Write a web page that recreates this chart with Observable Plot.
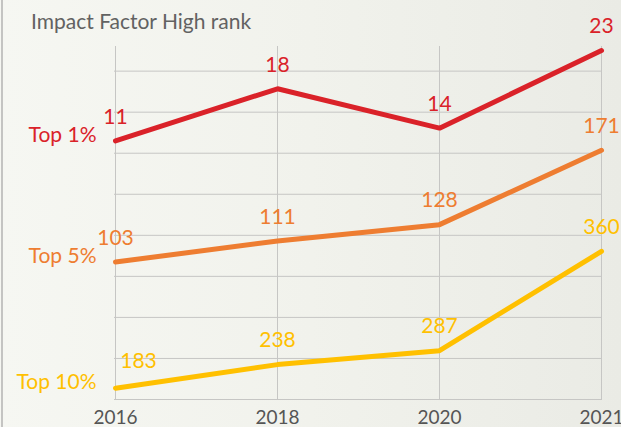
<!DOCTYPE html>
<html>
<head>
<meta charset="utf-8">
<script src="https://cdn.jsdelivr.net/npm/d3@7"></script>
<script src="https://cdn.jsdelivr.net/npm/@observablehq/plot@0.6"></script>
<style>
  html, body { margin: 0; padding: 0; }
  body { width: 621px; height: 427px; overflow: hidden; position: relative;
         background: linear-gradient(to right, #f6f7f2 0%, #f1f2ec 50%, #eaebe5 100%);
         font-family: Lato, "Open Sans", sans-serif; }
  #border { position: absolute; left: 1px; top: 0; width: 2px; height: 427px; background: #c4c4c2; }
  #title { position: absolute; left: 31px; top: 8px; font-size: 21px; color: #626262; font-family: Lato, sans-serif; white-space: nowrap; }
  #chart { position: absolute; left: 0; top: 0; }
  svg { background: transparent !important; }
</style>
</head>
<body>
<div id="border"></div>
<div id="chart"></div>
<div id="title">Impact Factor High rank</div>
<script>
// Data
const years = ["2016", "2018", "2020", "2021"];
const seriesNames = ["Top 1%", "Top 5%", "Top 10%"];
const top1Values = [11, 18, 14, 23];
const top5Values = [103, 111, 128, 171];
const top10Values = [183, 238, 287, 360];
// vertical position of each point on the chart's unlabeled index axis
const top1Pos = [6.30, 7.57, 6.61, 8.50];
const top5Pos = [3.35, 3.86, 4.26, 6.07];
const top10Pos = [0.275, 0.85, 1.19, 3.61];
const gridLevels = [0, 1, 2, 3, 4, 5, 6, 7, 8];
const colors = ["#da2229", "#ee7d31", "#ffc000"];

const valueSets = [top1Values, top5Values, top10Values];
const posSets = [top1Pos, top5Pos, top10Pos];
const rows = [];
seriesNames.forEach((s, i) => {
  years.forEach((y, j) => {
    rows.push({series: s, year: y, value: valueSets[i][j], pos: posSets[i][j]});
  });
});
const firsts = rows.filter(d => d.year === years[0]);
const shifted = d => d.year === years[0] && d.series === seriesNames[2];

const chart = Plot.plot({
  width: 621,
  height: 427,
  marginLeft: 114,
  marginRight: 19,
  marginTop: 46,
  marginBottom: 28,
  style: {fontFamily: "Lato, sans-serif", background: "transparent", overflow: "visible"},
  x: {type: "point", domain: years, padding: 0, label: null},
  y: {domain: [0, 8.6], axis: null},
  color: {domain: seriesNames, range: colors},
  marks: [
    Plot.ruleY(gridLevels, {stroke: "#c6c6c4", strokeWidth: 1}),
    Plot.ruleX(years, {stroke: "#c6c6c4", strokeWidth: 1}),
    Plot.axisX({tickSize: 0, tickPadding: 11, fontSize: 19, fill: "#555", label: null}),
    Plot.line(rows, {x: "year", y: "pos", z: "series", stroke: "series",
                     strokeWidth: 5, strokeLinecap: "round", strokeLinejoin: "miter"}),
    Plot.text(rows.filter(d => !shifted(d)), {x: "year", y: "pos", text: d => String(d.value), fill: "series",
                     dy: -24, fontSize: 21, lineAnchor: "middle"}),
    Plot.text(rows.filter(shifted), {x: "year", y: "pos", text: d => String(d.value), fill: "series",
                     dx: 23, dy: -27, fontSize: 21, lineAnchor: "middle"}),
    Plot.text(firsts, {x: "year", y: "pos", text: "series", fill: "series",
                       textAnchor: "end", dx: -19, dy: -6, fontSize: 21, lineAnchor: "middle"})
  ]
});
document.getElementById("chart").appendChild(chart);
</script>
</body>
</html>
